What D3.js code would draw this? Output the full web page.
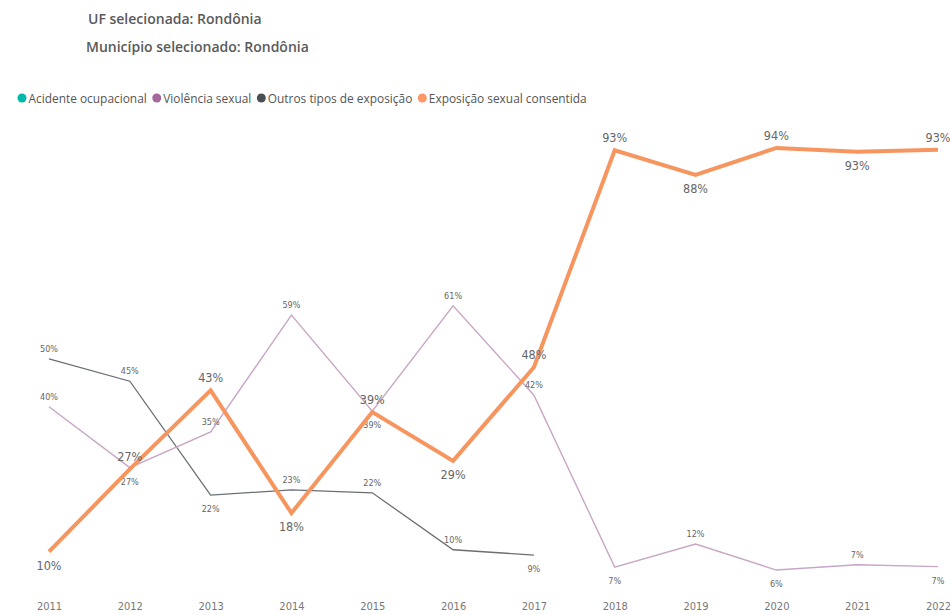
<!DOCTYPE html>
<html>
<head>
<meta charset="utf-8">
<script src="https://cdn.jsdelivr.net/npm/d3@7"></script>
<style>
  body { margin: 0; background: #fff; }
  svg { font-family: "Open Sans", "Noto Sans", sans-serif; }
</style>
</head>
<body>
<div id="chart"></div>
<script>
// data
var years = ["2011","2012","2013","2014","2015","2016","2017","2018","2019","2020","2021","2022"];
var acidente = [];  // no points shown
var violencia = [40, 27.4, 34.8, 59, 39.1, 60.9, 42.4, 6.8, 11.6, 6.2, 7.3, 6.9];
var outros = [49.9, 45.3, 21.7, 22.8, 22.2, 10.4, 9.3];
var consentida = [10, 27.1, 43.4, 18, 38.9, 28.8, 48.2, 93.1, 88, 93.6, 92.8, 93.2];
var legendNames = ["Acidente ocupacional", "Violência sexual", "Outros tipos de exposição", "Exposição sexual consentida"];
var colors = ["#01B8AA", "#A66999", "#4a4f52", "#FE9666"];

var width = 950, height = 615;

var svg = d3.select("#chart")
  .append("svg")
    .attr("width", width)
    .attr("height", height);

// titles
svg.append("text")
  .attr("x", 88).attr("y", 24)
  .attr("font-size", 14).attr("fill", "#5a5a5a").attr("font-weight", 600)
  .text("UF selecionada: Rondônia");
svg.append("text")
  .attr("x", 86).attr("y", 52)
  .attr("font-size", 14).attr("fill", "#5a5a5a").attr("font-weight", 600)
  .text("Município selecionado: Rondônia");

// legend
var legend = svg.append("g").attr("transform", "translate(22,98)");
var lx = 0;
legendNames.forEach(function(name, i) {
  var g = legend.append("g").attr("transform", "translate(" + lx + ",0)");
  g.append("circle").attr("r", 4.5).attr("cy", 0).attr("fill", colors[i]);
  var t = g.append("text")
    .attr("x", 6.5).attr("y", 4.5)
    .attr("font-size", 11.9).attr("fill", "#555")
    .text(name);
  lx += 6.5 + t.node().getComputedTextLength() + 10;
});

var x = d3.scalePoint()
  .domain(years)
  .range([49, 938]);

var y = d3.scaleLinear()
  .domain([0, 100])
  .range([600, 117]);

// x axis (labels only)
var xAxis = svg.append("g")
  .attr("transform", "translate(0,600)")
  .call(d3.axisBottom(x).tickSize(0).tickPadding(2));
xAxis.select(".domain").remove();
xAxis.selectAll("text")
  .attr("font-family", "'Liberation Sans Narrow', 'DejaVu Sans Condensed', sans-serif")
  .attr("font-size", 11).attr("fill", "#777");

var line = d3.line()
  .x(function(d) { return x(d.year); })
  .y(function(d) { return y(d.value); });

function toPoints(vals) {
  return vals.map(function(v, i) { return {year: years[i], value: v}; });
}

// label goes below when the point is a local low
function isBelow(vals, i) {
  var v = vals[i], p = vals[i - 1], n = vals[i + 1];
  if (p === undefined) return v < n;
  if (n === undefined) return v < p;
  return v < p && v <= n;
}

function drawSeries(vals, color, w, fontSize, above, below) {
  var pts = toPoints(vals);
  svg.append("path")
    .datum(pts)
    .attr("fill", "none")
    .attr("stroke", color)
    .attr("stroke-width", w)
    .attr("stroke-linejoin", "miter")
    .attr("d", line);
  svg.append("g")
    .selectAll("text")
    .data(pts)
    .enter()
    .append("text")
      .attr("x", function(d) { return x(d.year); })
      .attr("y", function(d, i) { return y(d.value) + (isBelow(vals, i) ? below : above); })
      .attr("text-anchor", "middle")
      .attr("font-family", "'Liberation Sans Narrow', 'DejaVu Sans Condensed', sans-serif")
      .attr("font-size", fontSize)
      .attr("fill", "#666")
      .text(function(d) { return Math.round(d.value) + "%"; });
}

drawSeries(outros, "#6b6f72", 1.3, 9, -7, 17);
drawSeries(violencia, "#C7A6C6", 1.4, 9, -7, 17);
drawSeries(consentida, "#F7955F", 4, 12.5, -8, 18);
</script>
</body>
</html>
